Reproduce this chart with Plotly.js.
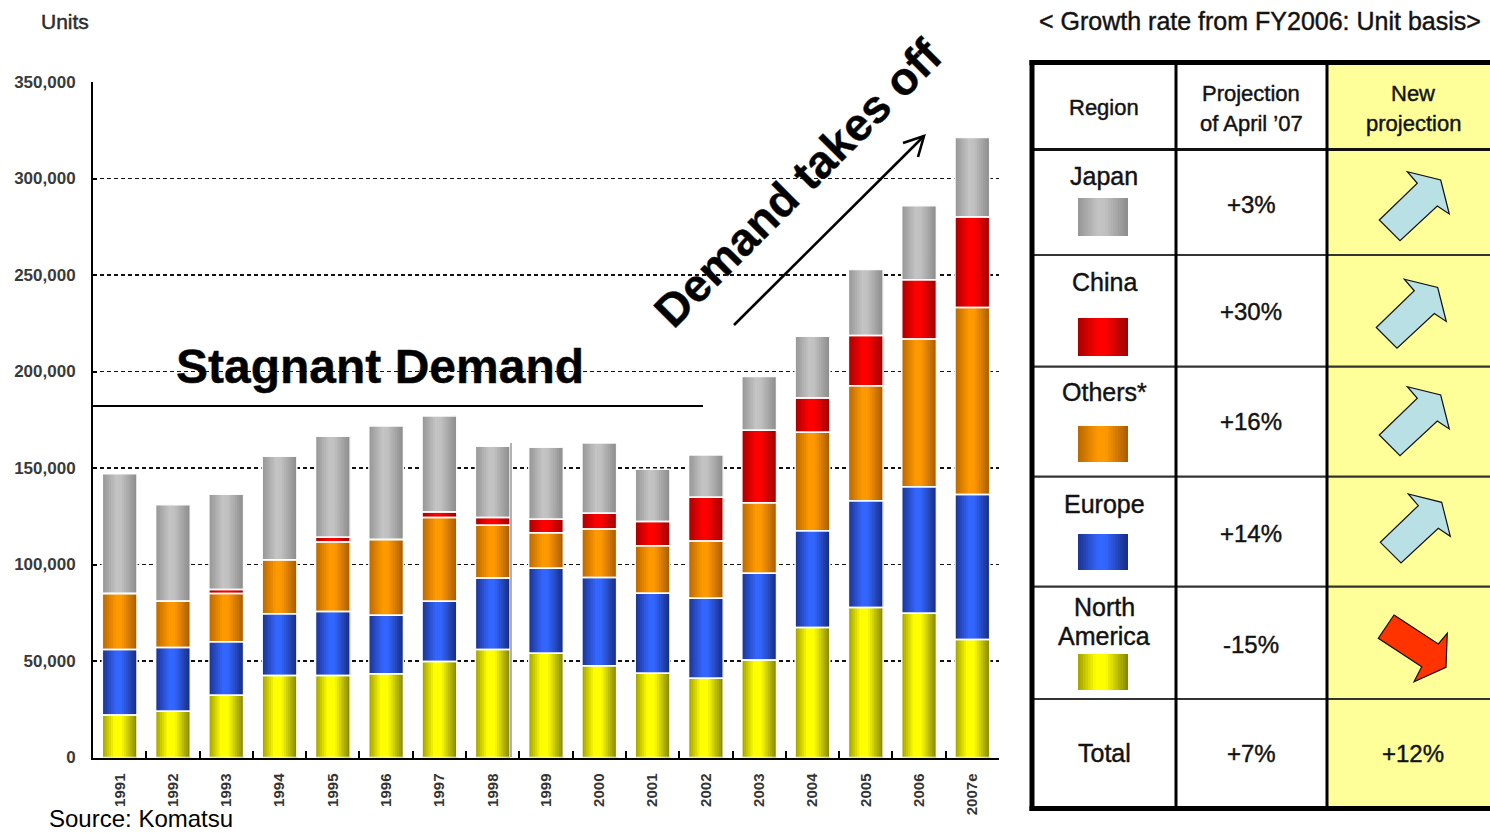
<!DOCTYPE html>
<html><head><meta charset="utf-8">
<script src="https://cdn.plot.ly/plotly-3.0.1.min.js"></script>
<style>
html,body{margin:0;padding:0;background:#fff}
#chart .annotation text{stroke:#1a1a1a;stroke-width:0.45px}
#chart .annotation[data-index="3"] text{stroke:none}
</style>
</head><body><div id="chart" style="width:1490px;height:833px"></div>
<script>
// ---------- data ----------
const years = ['1991','1992','1993','1994','1995','1996','1997','1998','1999','2000','2001','2002','2003','2004','2005','2006','2007e'];
const northAmerica = [22000,24000,32300,42500,42500,43400,49800,56000,54000,47600,43700,41100,50500,67400,77700,74800,61200];
const europe       = [34000,33000,27700,32000,33100,30300,31100,37000,44000,45600,41400,41400,45000,50100,55300,65500,75100];
const others       = [29000,24000,25000,28000,36100,39200,43400,27300,18500,25200,24600,29700,36500,51000,59600,76500,96900];
const china        = [0,0,2000,0,2400,0,2900,4000,7000,8200,12600,22700,37500,17800,26000,30700,46800];
const japan        = [62000,50000,49400,53600,52400,58800,49800,37000,37300,36300,27000,21800,27900,31900,34200,38400,41300];
const seriesNames  = ['North America','Europe','Others','China','Japan'];
const yTicks       = [0,50000,100000,150000,200000,250000,300000,350000];

const tableHeader   = ['Region','Projection|of April ’07','New|projection'];
const tableRegions  = ['Japan','China','Others*','Europe','North|America','Total'];
const projApril     = ['+3%','+30%','+16%','+14%','-15%','+7%'];
const newProjection = ['up','up','up','up','down','+12%'];

// ---------- helpers ----------
const W = 1490, H = 833;
const px = x => x / W;
const py = y => 1 - y / H;
function hex(h){return [parseInt(h.slice(1,3),16),parseInt(h.slice(3,5),16),parseInt(h.slice(5,7),16)];}
function colorAt(stops,t){
  for(let i=0;i<stops.length-1;i++){
    const [t0,c0]=stops[i],[t1,c1]=stops[i+1];
    if(t>=t0 && t<=t1){
      const f=(t-t0)/(t1-t0||1), a=hex(c0), b=hex(c1);
      return 'rgb('+a.map((v,k)=>Math.round(v+(b[k]-v)*f)).join(',')+')';
    }
  }
  return stops[stops.length-1][1];
}
const profiles = {
  'North America': [[0,'#a0a000'],[0.35,'#ffff00'],[0.55,'#ffff00'],[1,'#838300']],
  'Europe':        [[0,'#1b3390'],[0.4,'#3366ff'],[0.55,'#3366ff'],[1,'#172b7e']],
  'Others':        [[0,'#b86800'],[0.4,'#ff9900'],[0.55,'#ff9900'],[1,'#a65b00']],
  'China':         [[0,'#a80000'],[0.4,'#ff0000'],[0.55,'#ff0000'],[1,'#9c0000']],
  'Japan':         [[0,'#959595'],[0.4,'#c4c4c4'],[0.55,'#c0c0c0'],[1,'#8b8b8b']]
};

// ---------- traces ----------
const series = [northAmerica, europe, others, china, japan];
const cum = years.map(()=>0);
const bases = series.map(s => { const b = cum.slice(); s.forEach((v,i)=>cum[i]+=v); return b; });
const BW = 0.65, NS = 16;
const traces = [];
series.forEach((vals, si) => {
  const stops = profiles[seriesNames[si]];
  for (let i=0;i<NS;i++){
    traces.push({type:'bar', x: years, y: vals, base: bases[si], name: seriesNames[si],
      width: BW - i*BW/NS, offset: -BW/2 + i*BW/NS,
      marker:{color: colorAt(stops,(i+0.5)/NS), line:{width:0}},
      hoverinfo:'skip', showlegend:false});
  }
});
series.forEach((vals, si) => traces.push({type:'bar', x: years, y: vals, base: bases[si], name: seriesNames[si],
  width: BW, offset: -BW/2,
  marker:{color:'rgba(0,0,0,0)', line:{color:'rgba(255,255,255,0.95)', width:1.5}},
  hoverinfo:'skip', showlegend:false}));

// ---------- shapes ----------
const shapes = [];
function line(x0,y0,x1,y1,color,width){shapes.push({type:'line',xref:'paper',yref:'paper',x0:px(x0),y0:py(y0),x1:px(x1),y1:py(y1),line:{color:color,width:width}});}
function rect(x0,y0,x1,y1,fill){shapes.push({type:'rect',xref:'paper',yref:'paper',x0:px(x0),y0:py(y0),x1:px(x1),y1:py(y1),fillcolor:fill,line:{width:0}});}
function poly(pts,fill,lc,lw,closed){
  let d = pts.map((p,i)=>(i?'L':'M')+px(p[0]).toFixed(5)+','+py(p[1]).toFixed(5)).join(' ') + (closed?' Z':'');
  shapes.push({type:'path',xref:'paper',yref:'paper',path:d,fillcolor:fill,line:{color:lc,width:lw}});
}

// chart decorations
line(93,406,703,406,'#000',2);
line(511,443,511,757,'#999',1.5);
line(734,325,923,137,'#000',2.6);
poly([[903,143],[924,136],[918,157]],'rgba(0,0,0,0)','#000',2.6,false);

// table
rect(1327,62,1490,808,'#ffff99');
const rowLines = [255,366.7,476.7,586.7,699];
rowLines.forEach(y=>line(1032,y,1490,y,'#333',2.2));
line(1032,149.5,1490,149.5,'#111',3);
line(1176,62,1176,808,'#000',3);
line(1327,62,1327,808,'#000',3);
line(1029.5,62.5,1490,62.5,'#000',5);
line(1032,60,1032,811,'#000',5);
line(1029.5,808.5,1490,808.5,'#000',5);

// swatches
const swatchY = [[198,236],[318,356],[426,462],[534,570],[654,690]];
const swatchSeries = ['Japan','China','Others','Europe','North America'];
swatchY.forEach((yy,k)=>{
  const stops = profiles[swatchSeries[k]], N=20;
  for(let i=0;i<N;i++) rect(1078+i*50/N,yy[0],1128,yy[1],colorAt(stops,(i+0.5)/N));
});

// arrows
const upArrow = [[1379.3,220],[1417.3,183.3],[1407.3,171.7],[1440.7,180],[1449.3,214],[1437.3,206],[1400,240.7]];
const upShift = [[0,0],[-3,107.5],[0,215],[1,322.3]];
const downArrow = [[1394,615],[1438.3,644],[1447.3,633.3],[1446,667.3],[1414,681.7],[1421.7,666.7],[1378.3,638.3]];
newProjection.forEach((v,k)=>{
  if(v==='up'){ const s=upShift[k]; poly(upArrow.map(p=>[p[0]+s[0],p[1]+s[1]]),'#b9e0e4','#111',1.2,true); }
  else if(v==='down'){ poly(downArrow,'#ff3300','#111',1.2,true); }
});

// ---------- annotations ----------
const ann = [];
function txt(t,x,y,size,opts){
  opts=opts||{};
  ann.push(Object.assign({text:t,xref:'paper',yref:'paper',x:px(x),y:py(y),xanchor:'center',yanchor:'middle',showarrow:false,
    font:{family:'Liberation Sans, Arial, sans-serif',size:size,color:opts.color||'#111',weight:opts.weight||'normal'}},opts.extra||{}));
}
txt('Units',65,21,21,{color:'#333'});
txt('Stagnant Demand',380,366,48,{color:'#000',weight:'bold'});
txt('Demand takes off',798,183,46,{color:'#000',weight:'bold',extra:{textangle:-45}});
txt('Source: Komatsu',47,818,24,{color:'#000',extra:{xanchor:'left'}});
txt('< Growth rate from FY2006: Unit basis>',1037,21,25,{extra:{xanchor:'left'}});

// header
const colX = [1104,1251,1413];
tableHeader.forEach((h,c)=>{
  const parts=h.split('|');
  if(parts.length===1) txt(parts[0],colX[c],107,22);
  else { txt(parts[0],colX[c],93,22); txt(parts[1],colX[c],124,22); }
});
const labelY = [176,282,392,504,[607,636],753];
const pctY = [204,311,421,533,644,753];
tableRegions.forEach((r,k)=>{
  const parts=r.split('|');
  if(parts.length===1) txt(parts[0],colX[0],labelY[k],25);
  else { txt(parts[0],colX[0],labelY[k][0],25); txt(parts[1],colX[0],labelY[k][1],25); }
  txt(projApril[k],colX[1],pctY[k],24);
  if(newProjection[k]!=='up' && newProjection[k]!=='down') txt(newProjection[k],colX[2],pctY[k],24);
});

// ---------- layout ----------
const layout = {
  width: W, height: H,
  margin:{l:0,r:0,t:0,b:0},
  paper_bgcolor:'#fff', plot_bgcolor:'rgba(0,0,0,0)',
  barmode:'overlay',
  showlegend:false,
  font:{family:'Liberation Sans, Arial, sans-serif'},
  xaxis:{type:'category', domain:[93/W, 999/W], showline:true, linecolor:'#000', linewidth:2,
    ticks:'inside', tickson:'boundaries', ticklen:7, tickwidth:2, tickcolor:'#000',
    tickangle:-90, tickfont:{size:15,color:'#333',weight:'bold'}, ticklabelstandoff:8, showgrid:false, fixedrange:true},
  yaxis:{domain:[(H-757.5)/H, (H-82)/H], range:[0,350000], tickvals:yTicks, tickformat:',', 
    showline:true, linecolor:'#000', linewidth:2, ticks:'inside', ticklen:4, tickwidth:2, tickcolor:'#000',
    tickfont:{size:17,color:'#3a3a3a',weight:'bold'}, ticklabelstandoff:12,
    showgrid:true, gridcolor:'#111', gridwidth:1.6, griddash:'4px,3px', zeroline:false, fixedrange:true},
  shapes: shapes,
  annotations: ann
};
Plotly.newPlot('chart', traces, layout, {staticPlot:true, displayModeBar:false});
</script></body></html>
